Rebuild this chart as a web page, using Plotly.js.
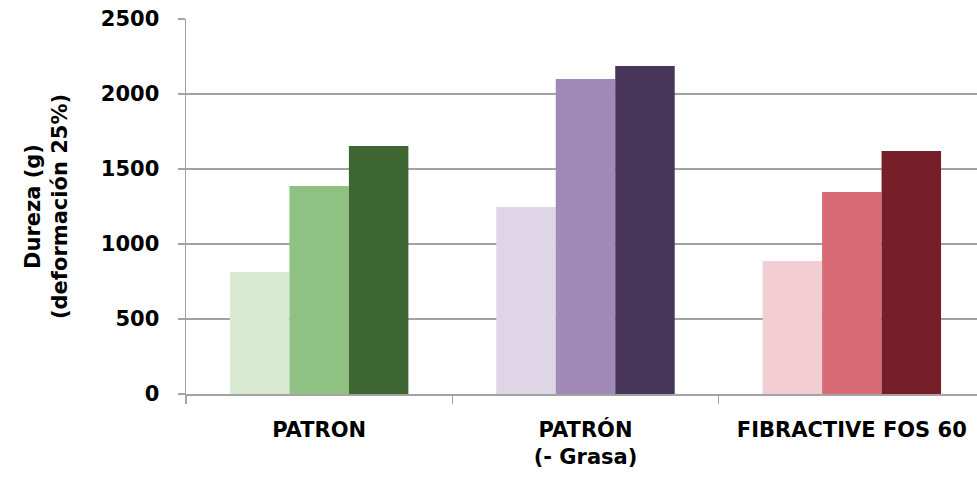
<!DOCTYPE html>
<html>
<head>
<meta charset="utf-8">
<script src="https://cdn.plot.ly/plotly-3.0.1.min.js"></script>
<style>
  html, body { margin: 0; padding: 0; background: #ffffff; }
  #chart { width: 977px; height: 484px; }
</style>
</head>
<body>
<div id="chart"></div>
<script>
// Formulations on the x axis
const categories = ['PATRON', 'PATRÓN<br>(- Grasa)', 'FIBRACTIVE FOS 60'];

// Hardness (g) at 25% deformation, three measurements per formulation
const serie1 = [813, 1247, 887];
const serie2 = [1387, 2100, 1347];
const serie3 = [1653, 2187, 1620];

// Each formulation has its own colour family (light, medium, dark)
const colores1 = ['#d9ead3', '#ded5e6', '#f2ced2'];
const colores2 = ['#8fc182', '#a089b7', '#d96b76'];
const colores3 = ['#3d6632', '#47365a', '#771f28'];

const yTicks = [0, 500, 1000, 1500, 2000, 2500];

const series = [serie1, serie2, serie3];
const colores = [colores1, colores2, colores3];

const traces = series.map((vals, i) => ({
  type: 'bar',
  x: categories,
  y: vals,
  marker: { color: colores[i], line: { width: 0 } },
  showlegend: false,
  hoverinfo: 'x+y'
}));

const fontFamily = '"DejaVu Sans", sans-serif';
const gridGray = '#a3a3a3';

const layout = {
  width: 977,
  height: 484,
  margin: { l: 186, r: 0, t: 19, b: 90 },
  paper_bgcolor: '#ffffff',
  plot_bgcolor: '#ffffff',
  barmode: 'group',
  bargap: 0.33,
  bargroupgap: 0,
  font: { family: fontFamily, size: 21, color: '#000000', weight: 'bold' },
  xaxis: {
    type: 'category',
    range: [-0.5, 2.47],
    showgrid: false,
    showline: true,
    linecolor: gridGray,
    linewidth: 1.5,
    ticks: 'outside',
    tickson: 'boundaries',
    ticklen: 8,
    tickcolor: gridGray,
    tickwidth: 1.5,
    ticklabelstandoff: 16,
    tickfont: { family: fontFamily, size: 21, color: '#000000', weight: 'bold' },
    fixedrange: true
  },
  yaxis: {
    range: [0, 2500],
    tickvals: yTicks,
    ticktext: yTicks.map(String),
    showgrid: true,
    gridcolor: gridGray,
    gridwidth: 1.5,
    zeroline: false,
    showline: true,
    linecolor: gridGray,
    linewidth: 1.5,
    ticks: 'outside',
    ticklen: 7,
    tickcolor: gridGray,
    tickwidth: 1.5,
    ticklabelstandoff: 14,
    tickfont: { family: fontFamily, size: 21, color: '#000000', weight: 'bold' },
    title: {
      text: 'Dureza (g)<br>(deformación 25%)',
      font: { family: fontFamily, size: 21, color: '#000000', weight: 'bold' },
      standoff: 27
    },
    fixedrange: true
  }
};

Plotly.newPlot('chart', traces, layout, { displayModeBar: false, staticPlot: true });
</script>
</body>
</html>
